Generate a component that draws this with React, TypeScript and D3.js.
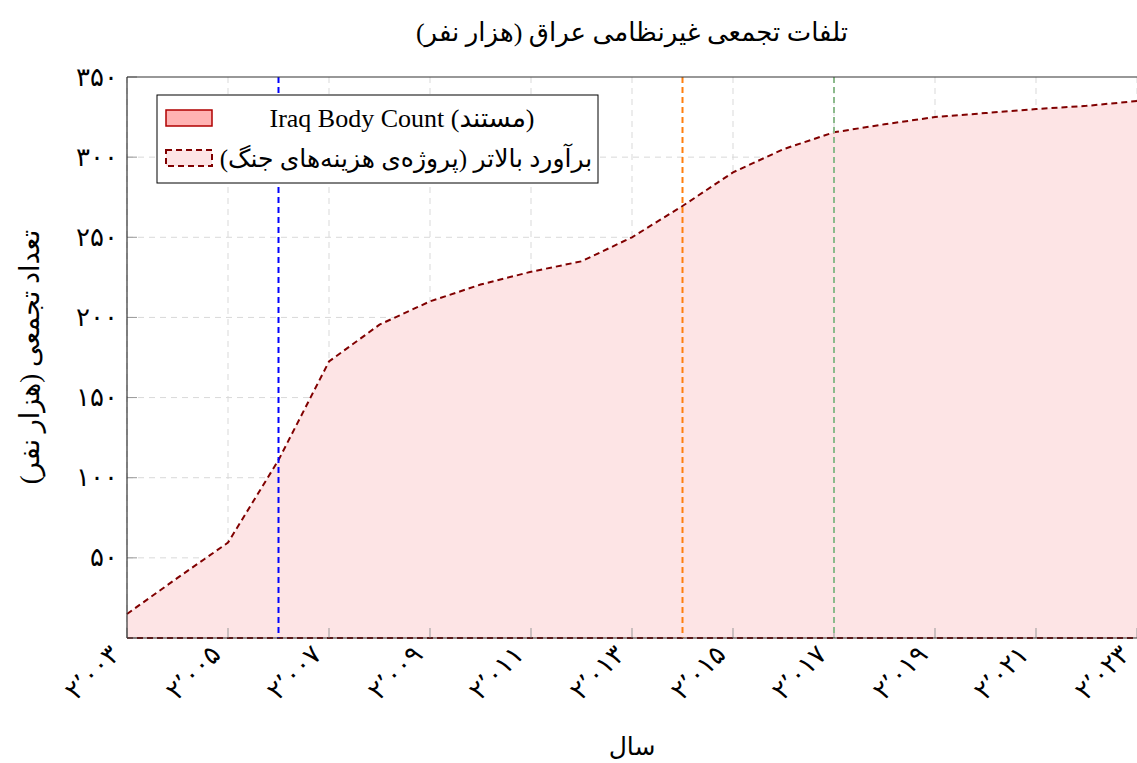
import React from "react";
import * as d3 from "d3";

const years = [2003, 2004, 2005, 2006, 2007, 2008, 2009, 2010, 2011, 2012, 2013, 2014, 2015, 2016, 2017, 2018, 2019, 2020, 2021, 2022, 2023];
const upperEstimate = [15, 37.5, 59.5, 111, 172.5, 195.5, 210, 220.5, 228.5, 235, 250, 269.5, 290.5, 305, 315.5, 320.5, 325, 327.5, 330, 332, 335];
const iraqBodyCount = years.map(() => 0);
const xTicks = [2003, 2005, 2007, 2009, 2011, 2013, 2015, 2017, 2019, 2021, 2023];
const yTicks = [0, 50, 100, 150, 200, 250, 300, 350];
const markerYears = [2006, 2014, 2017];
const markerColors = ["#0000ff", "#ff7f0e", "#8cba8c"];

const title = "تلفات تجمعی غیرنظامی عراق (هزار نفر)";
const xLabel = "سال";
const yLabel = "تعداد تجمعی (هزار نفر)";
const legendLabels = ["Iraq Body Count (مستند)", "برآورد بالاتر (پروژه‌ی هزینه‌های جنگ)"];

const W = 1137, H = 763;
const M = { left: 127, right: 1137, top: 77, bottom: 638 };
const FONT = "'Liberation Serif', 'DejaVu Serif', 'DejaVu Sans', serif";

const faDigits = "۰۱۲۳۴۵۶۷۸۹";
function toFa(s: string): string {
  return s.replace(/[0-9]/g, (d) => faDigits[+d]).replace(/,/g, "٬");
}

export default function App() {
  const x = d3.scaleLinear().domain([2003, 2023]).range([M.left, M.right]);
  const y = d3.scaleLinear().domain([0, 350]).range([M.bottom, M.top]);
  const fmt = d3.format(",");

  const area = d3.area<number>().x((_, i) => x(years[i])).y0(y(0)).y1((d) => y(d))(upperEstimate) || "";
  const line = d3.line<number>().x((_, i) => x(years[i])).y((d) => y(d))(upperEstimate) || "";
  const ibcLine = d3.line<number>().x((_, i) => x(years[i])).y((d) => y(d))(iraqBodyCount) || "";

  return (
    <svg width={W} height={H} style={{ position: "absolute", left: 0, top: 0, background: "#fff" }} fontFamily={FONT}>
      {/* grid */}
      {xTicks.map((t) => (
        <line key={"gx" + t} x1={x(t)} x2={x(t)} y1={M.top} y2={M.bottom} stroke="#d9d9d9" strokeDasharray="6,5" strokeWidth={1} />
      ))}
      {yTicks.filter((t) => t > 0 && t < 350).map((t) => (
        <line key={"gy" + t} x1={M.left} x2={M.right} y1={y(t)} y2={y(t)} stroke="#d9d9d9" strokeDasharray="6,5" strokeWidth={1} />
      ))}
      {/* area */}
      <path d={area} fill="#fde4e5" stroke="none" />
      <path d={line} fill="none" stroke="#800000" strokeWidth={2} strokeDasharray="6,4" />
      <path d={ibcLine} fill="none" stroke="#800000" strokeWidth={2} strokeDasharray="6,4" />
      {/* tick marks */}
      {xTicks.map((t) => (
        <line key={"tx" + t} x1={x(t)} x2={x(t)} y1={M.bottom} y2={M.bottom - 10} stroke="#999" strokeWidth={1} />
      ))}
      {yTicks.map((t) => (
        <line key={"ty" + t} x1={M.left} x2={M.left + 10} y1={y(t)} y2={y(t)} stroke="#999" strokeWidth={1} />
      ))}
      {/* markers */}
      {markerYears.map((m, i) => (
        <line key={"m" + m} x1={x(m)} x2={x(m)} y1={M.top} y2={M.bottom} stroke={markerColors[i]} strokeWidth={2} strokeDasharray="6,4" />
      ))}
      {/* frame */}
      <line x1={M.left} x2={M.left} y1={M.top} y2={M.bottom} stroke="#333" strokeWidth={1.2} />
      <line x1={M.left} x2={M.right} y1={M.bottom} y2={M.bottom} stroke="#333" strokeWidth={1.2} />
      <line x1={M.left} x2={M.right} y1={M.top} y2={M.top} stroke="#333" strokeWidth={1.2} />
      {/* tick labels */}
      {yTicks.filter((t) => t > 0).map((t) => (
        <text key={"ly" + t} x={118} y={y(t)} textAnchor="end" dominantBaseline="central" fontSize={26}>
          {toFa(fmt(t))}
        </text>
      ))}
      {xTicks.map((t) => (
        <text key={"lx" + t} transform={`translate(${x(t) - 12},${M.bottom + 12}) rotate(-45)`} textAnchor="end" dominantBaseline="central" fontSize={26}>
          {toFa(fmt(t))}
        </text>
      ))}
      {/* titles */}
      <text x={(M.left + M.right) / 2} y={32} textAnchor="middle" dominantBaseline="central" fontSize={26} direction="rtl">
        {title}
      </text>
      <text x={(M.left + M.right) / 2} y={746} textAnchor="middle" dominantBaseline="central" fontSize={25} direction="rtl">
        {xLabel}
      </text>
      <text transform={`translate(30,357) rotate(-90)`} textAnchor="middle" dominantBaseline="central" fontSize={27} direction="rtl">
        {yLabel}
      </text>
      {/* legend */}
      <g>
        <rect x={157} y={95} width={441} height={88} fill="#fff" stroke="#000" strokeWidth={1} />
        <rect x={166} y={110} width={46} height={16} fill="#ffb3b3" stroke="#b00000" strokeWidth={1.5} />
        <rect x={166} y={150} width={46} height={16} fill="#fde4e5" stroke="#800000" strokeWidth={2} strokeDasharray="6,4" />
        <text x={402} y={118} textAnchor="middle" dominantBaseline="central" fontSize={26}>
          {legendLabels[0]}
        </text>
        <text x={406} y={158} textAnchor="middle" dominantBaseline="central" fontSize={25} direction="rtl">
          {legendLabels[1]}
        </text>
      </g>
    </svg>
  );
}
